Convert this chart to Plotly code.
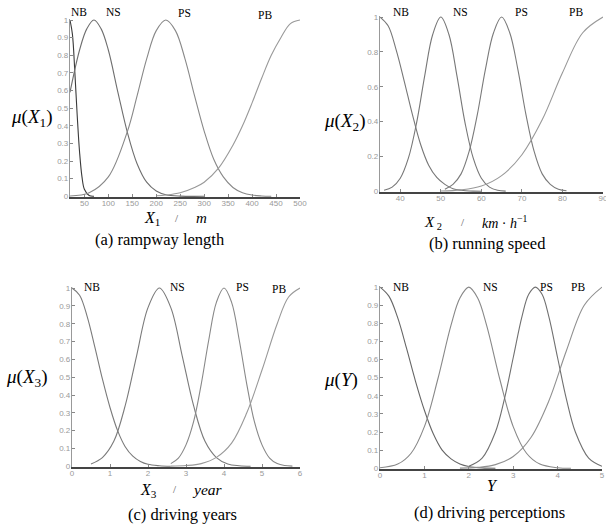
import plotly.graph_objects as go

# ---------------- data ----------------
LABELS = ["NB", "NS", "PS", "PB"]

# (a) rampway length
A_NB_X = [20, 25, 30, 35, 40, 45, 50, 60, 70]
A_NB_Y = [1, 0.92, 0.71, 0.46, 0.25, 0.11, 0.04, 0.004, 0]
A_NS_X = [20, 40, 55, 70, 85, 100, 120, 140, 160, 180, 200, 220, 250, 300]
A_NS_Y = [0.59, 0.83, 0.95, 1, 0.95, 0.83, 0.59, 0.36, 0.185, 0.08, 0.03, 0.009, 0.001, 0]
A_PS_X = [20, 60, 100, 140, 160, 180, 200, 220, 240, 260, 280, 300, 320, 340, 360, 380, 400, 420, 440]
A_PS_Y = [0.002, 0.02, 0.11, 0.37, 0.57, 0.78, 0.94, 1, 0.94, 0.78, 0.57, 0.37, 0.21, 0.11, 0.05, 0.02, 0.007, 0.002, 0]
A_PB_X = [200, 220, 250, 280, 300, 330, 360, 380, 400, 420, 440, 460, 480, 500]
A_PB_Y = [0.003, 0.007, 0.02, 0.05, 0.08, 0.16, 0.29, 0.40, 0.53, 0.67, 0.80, 0.90, 0.98, 1]

# (b) running speed
B_NB_X = [35, 37, 39, 41, 43, 45, 47, 49, 51, 53, 55, 58, 60]
B_NB_Y = [1, 0.95, 0.81, 0.63, 0.44, 0.27, 0.15, 0.08, 0.04, 0.015, 0.006, 0.001, 0]
B_NS_X = [36, 38, 40, 42, 44, 46, 48, 50, 52, 54, 56, 58, 60, 62, 64, 66]
B_NS_Y = [0.006, 0.024, 0.075, 0.19, 0.39, 0.66, 0.90, 1, 0.90, 0.66, 0.39, 0.19, 0.075, 0.024, 0.006, 0.001]
B_PS_X = [51, 53, 55, 57, 59, 61, 63, 65, 67, 69, 71, 73, 75, 77, 79, 81]
B_PS_Y = [0.012, 0.04, 0.10, 0.23, 0.44, 0.70, 0.91, 1, 0.91, 0.70, 0.44, 0.23, 0.10, 0.04, 0.012, 0.003]
B_PB_X = [50, 55, 60, 65, 70, 75, 80, 85, 90]
B_PB_Y = [0.002, 0.008, 0.03, 0.09, 0.21, 0.41, 0.68, 0.91, 1]

# (c) driving years
C_NB_X = [0, 0.2, 0.4, 0.6, 0.8, 1.0, 1.2, 1.4, 1.6, 1.8, 2.0, 2.3, 2.6]
C_NB_Y = [1, 0.96, 0.84, 0.67, 0.49, 0.33, 0.20, 0.11, 0.057, 0.027, 0.011, 0.003, 0]
C_NS_X = [0.5, 0.8, 1.1, 1.4, 1.7, 2.0, 2.3, 2.6, 2.9, 3.2, 3.5, 3.8, 4.1, 4.4, 4.7]
C_NS_Y = [0.013, 0.049, 0.14, 0.34, 0.62, 0.89, 1, 0.89, 0.62, 0.34, 0.14, 0.049, 0.013, 0.003, 0]
C_PS_X = [2.6, 2.8, 3.0, 3.2, 3.4, 3.6, 3.8, 4.0, 4.2, 4.4, 4.6, 4.8, 5.0, 5.2, 5.4, 5.6, 5.8]
C_PS_Y = [0.015, 0.046, 0.12, 0.25, 0.46, 0.71, 0.92, 1, 0.92, 0.71, 0.46, 0.25, 0.12, 0.046, 0.015, 0.004, 0.001]
C_PB_X = [2.6, 3.0, 3.4, 3.8, 4.2, 4.6, 5.0, 5.4, 5.7, 6.0]
C_PB_Y = [0.001, 0.004, 0.015, 0.05, 0.13, 0.30, 0.54, 0.80, 0.95, 1]

# (d) driving perceptions
D_NB_X = [0, 0.2, 0.4, 0.6, 0.8, 1.0, 1.2, 1.4, 1.6, 1.8, 2.0, 2.3, 2.6]
D_NB_Y = [1, 0.95, 0.83, 0.66, 0.48, 0.32, 0.19, 0.10, 0.052, 0.024, 0.01, 0.002, 0]
D_NS_X = [0, 0.4, 0.7, 1.0, 1.3, 1.6, 1.8, 2.0, 2.2, 2.4, 2.7, 3.0, 3.3, 3.6, 4.0, 4.3]
D_NS_Y = [0.003, 0.023, 0.083, 0.23, 0.49, 0.79, 0.94, 1, 0.94, 0.79, 0.49, 0.23, 0.083, 0.023, 0.003, 0]
D_PS_X = [2.0, 2.3, 2.6, 2.8, 3.0, 3.2, 3.35, 3.5, 3.65, 3.8, 4.0, 4.2, 4.4, 4.7, 5.0]
D_PS_Y = [0.011, 0.056, 0.20, 0.38, 0.61, 0.84, 0.96, 1, 0.96, 0.84, 0.61, 0.38, 0.20, 0.056, 0.011]
D_PB_X = [1.8, 2.2, 2.6, 3.0, 3.4, 3.8, 4.2, 4.6, 5.0]
D_PB_Y = [0.001, 0.005, 0.02, 0.065, 0.17, 0.37, 0.65, 0.90, 1]

# tick values
A_XTICKS = [50, 100, 150, 200, 250, 300, 350, 400, 450, 500]
B_XTICKS = [40, 50, 60, 70, 80, 90]
C_XTICKS = [0, 1, 2, 3, 4, 5, 6]
D_XTICKS = [0, 1, 2, 3, 4, 5]
Y_TICKS_FINE = [0, 0.1, 0.2, 0.3, 0.4, 0.5, 0.6, 0.7, 0.8, 0.9, 1]
Y_TICKS_COARSE = [0, 0.2, 0.4, 0.6, 0.8, 1]

# ---------------- figure ----------------
W, H = 606, 526
SERIF = "Liberation Serif, Times New Roman, serif"
SANS = "Liberation Sans, Arial, sans-serif"

fig = go.Figure()

panels = [
    dict(ax="", xr=[20, 500], xt=A_XTICKS, yt=Y_TICKS_FINE, px=(70, 300), py=(19, 197),
         curves=[(A_NB_X, A_NB_Y), (A_NS_X, A_NS_Y), (A_PS_X, A_PS_Y), (A_PB_X, A_PB_Y)],
         colors=["#3a3a3a", "#6e6e6e", "#888888", "#999999"]),
    dict(ax="2", xr=[35, 90], xt=B_XTICKS, yt=Y_TICKS_COARSE, px=(380, 603), py=(16, 192),
         curves=[(B_NB_X, B_NB_Y), (B_NS_X, B_NS_Y), (B_PS_X, B_PS_Y), (B_PB_X, B_PB_Y)],
         colors=["#777777", "#777777", "#7a7a7a", "#999999"]),
    dict(ax="3", xr=[0, 6], xt=C_XTICKS, yt=Y_TICKS_FINE, px=(72, 300), py=(287, 467),
         curves=[(C_NB_X, C_NB_Y), (C_NS_X, C_NS_Y), (C_PS_X, C_PS_Y), (C_PB_X, C_PB_Y)],
         colors=["#7a7a7a", "#7a7a7a", "#888888", "#999999"]),
    dict(ax="4", xr=[0, 5], xt=D_XTICKS, yt=Y_TICKS_FINE, px=(380, 602), py=(286, 469),
         curves=[(D_NB_X, D_NB_Y), (D_NS_X, D_NS_Y), (D_PS_X, D_PS_Y), (D_PB_X, D_PB_Y)],
         colors=["#666666", "#888888", "#707070", "#909090"]),
]

layout = dict(
    width=W, height=H, margin=dict(l=0, r=0, t=0, b=0, autoexpand=False),
    paper_bgcolor="white", plot_bgcolor="white", showlegend=False,
)

for p in panels:
    ax = p["ax"]
    for (xs, ys), col, name in zip(p["curves"], p["colors"], LABELS):
        fig.add_trace(go.Scatter(
            x=xs, y=ys, mode="lines", name=name,
            line=dict(color=col, width=1.1, shape="spline", smoothing=1.0),
            xaxis="x" + ax, yaxis="y" + ax, hoverinfo="skip",
        ))
    x0, x1 = p["px"]
    y0, y1 = p["py"]
    common = dict(
        showgrid=False, zeroline=False, showline=True,
        ticks="inside", ticklen=3, tickcolor="#888888",
        tickfont=dict(family=SANS, size=8, color="#999999"), mirror=False,
        automargin=False, ticklabeloverflow="allow",
    )
    layout["xaxis" + ax] = dict(
        domain=[x0 / W, x1 / W], range=p["xr"], tickvals=p["xt"],
        anchor="y" + ax, linecolor="#444444", linewidth=2, ticklabelstandoff=-3,
        **common,
    )
    layout["yaxis" + ax] = dict(
        domain=[1 - y1 / H, 1 - y0 / H], range=[-0.004, 1.006], tickvals=p["yt"],
        ticktext=[("%g" % v) for v in p["yt"]],
        anchor="x" + ax, linecolor="#999999", linewidth=1.2, ticklabelstandoff=-1,
        **common,
    )

fig.update_layout(**layout)

def ann(text, x, y, size, color="black", xanchor="center"):
    fig.add_annotation(
        text=text, x=x / W, y=1 - y / H, xref="paper", yref="paper",
        showarrow=False, xanchor=xanchor, yanchor="middle",
        font=dict(family=SERIF, size=size, color=color),
    )

# curve labels
label_pos = [
    [(79, 12), (113, 12), (184, 13), (265, 15)],
    [(401, 12), (460, 12), (521, 12), (576, 12)],
    [(92, 287), (177, 287), (242, 287), (279, 289)],
    [(401, 287), (490, 287), (546, 287), (578, 287)],
]
for row in label_pos:
    for (x, y), name in zip(row, LABELS):
        ann(name, x, y, 11.5)

# y-axis titles
ann("<i>μ</i>(<i>X</i><sub>1</sub>)", 31, 118, 19)
ann("<i>μ</i>(<i>X</i><sub>2</sub>)", 345, 122, 19)
ann("<i>μ</i>(<i>X</i><sub>3</sub>)", 26, 378, 19)
ann("<i>μ</i>(<i>Y</i>)", 341, 380, 19)

# x-axis titles (pieces)
ann("<i>X</i><sub>1</sub>", 152, 218, 16)
ann("/", 177, 218, 11, color="#555555")
ann("<i>m</i>", 201, 218, 15)

ann("<i>X</i><sub> 2</sub>", 433, 223, 15)
ann("/", 463, 222, 11, color="#555555")
ann("<i>km</i> · <i>h</i><sup>−1</sup>", 505, 222, 14)

ann("<i>X</i><sub>3</sub>", 148, 490, 16)
ann("/", 175, 489, 11, color="#555555")
ann("<i>year</i>", 207, 489, 15.5)

ann("<i>Y</i>", 492, 485, 16)

# captions
ann("(a) rampway length", 160, 239, 16.5)
ann("(b) running speed", 487, 243, 16.5)
ann("(c) driving years", 182, 514, 16.5)
ann("(d) driving perceptions", 489, 512, 16.5)

fig.write_html(
    "out.html",
    config={"displayModeBar": False},
    post_script="document.body.style.margin='0px';document.body.style.padding='0px';",
)
